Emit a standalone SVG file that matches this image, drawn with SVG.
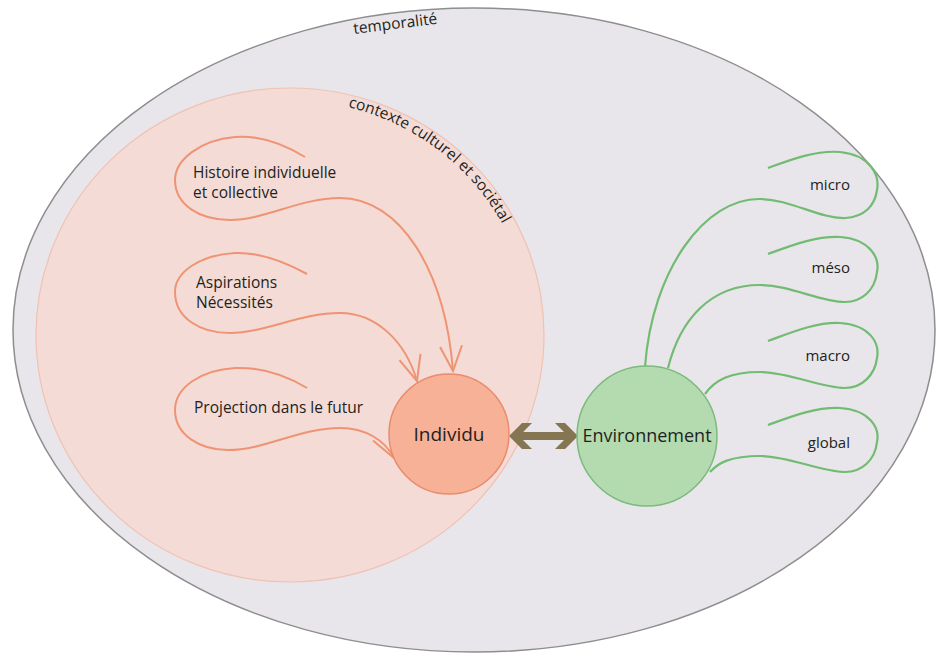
<svg xmlns="http://www.w3.org/2000/svg" xmlns:xlink="http://www.w3.org/1999/xlink" width="936" height="657" viewBox="0 0 936 657">
<style>
text{font-family:"Open Sans","Noto Sans","Liberation Sans",sans-serif;fill:#231f20}
.lbl{font-size:15.5px}
.sm{font-size:15px}
.pink{fill:none;stroke:#ee9475;stroke-width:2}
.green{fill:none;stroke:#72bb72;stroke-width:2.2}
</style>
<defs>
<marker id="open" markerUnits="userSpaceOnUse" markerWidth="40" markerHeight="40" viewBox="-30 -20 40 40" refX="0" refY="0" orient="auto">
<path d="M -25 -11 L 0 0 L -25 11" fill="none" stroke="#ee9475" stroke-width="2"/>
</marker>
<path id="ctxArc" d="M 348 107 A 242 235 0 0 1 520 265"/>
</defs>
<rect width="936" height="657" fill="#ffffff"/>
<g id="temporalite">
<ellipse cx="474" cy="330" rx="461" ry="322" fill="#e8e6eb" stroke="#8e8e8e" stroke-width="1.5"/>
<text class="lbl" transform="translate(354 34) rotate(-7)">temporalité</text>
</g>
<g id="contexte">
<ellipse cx="290" cy="335" rx="254" ry="247" fill="#f4dbd6" stroke="#efc2b3" stroke-width="1.2"/>
<text class="lbl"><textPath xlink:href="#ctxArc" href="#ctxArc">contexte culturel et sociétal</textPath></text>
</g>
<g id="connectors">
<path class="pink" marker-end="url(#open)" d="M 305 157 C 285 145 260 135 235 137 C 200 140 175 160 175 180 C 175 205 200 220 230 220 C 265 220 300 198 340 198 C 400 198 445 270 453 371"/>
<path class="pink" marker-end="url(#open)" d="M 307 274 C 285 262 260 252 235 253 C 200 255 175 272 175 292 C 175 318 200 333 230 333 C 265 333 300 313 340 313 C 375 313 405 340 417 381"/>
<path class="pink" marker-end="url(#open)" d="M 307 388 C 285 375 260 367 235 368 C 200 370 175 388 175 410 C 175 435 200 450 228 450 C 265 450 300 428 340 428 C 365 428 385 440 394 458"/>
<path class="green" d="M 768 168 C 790 160 815 150 840 152 C 870 155 880 175 877 190 C 875 205 865 217 845 218 C 820 219 790 199 760 199 C 705 198 652 270 645 367"/>
<path class="green" d="M 768 254 C 790 246 815 236 840 237 C 870 239 880 258 877 272 C 875 290 862 302 845 302 C 820 302 790 285 760 285 C 710 285 680 320 668 368"/>
<path class="green" d="M 768 341 C 790 333 815 322 840 323 C 870 325 880 343 877 358 C 875 375 862 388 845 388 C 820 388 790 372 760 372 C 730 372 715 380 705 394"/>
<path class="green" d="M 768 425 C 790 417 815 407 840 408 C 870 410 880 428 877 442 C 875 460 862 472 845 472 C 820 472 790 456 760 456 C 730 456 718 463 710 472"/>
<polygon fill="#867552" points="509,436 522,423 532,423 523,432 564,432 555,423 565,423 578,436 565,449 555,449 564,440 523,440 532,449 522,449"/>
</g>
<g id="histoire">
<text class="lbl" x="193" y="178">Histoire individuelle</text>
<text class="lbl" x="193" y="198">et collective</text>
</g>
<g id="aspirations">
<text class="lbl" x="196" y="288">Aspirations</text>
<text class="lbl" x="196" y="308">Nécessités</text>
</g>
<g id="projection">
<text class="lbl" x="194" y="413">Projection dans le futur</text>
</g>
<g id="individu">
<circle cx="449" cy="434" r="60" fill="#f7b196" stroke="#e98b6c" stroke-width="1.5"/>
<text x="449" y="441" text-anchor="middle" style="font-size:19px">Individu</text>
</g>
<g id="environnement">
<circle cx="647" cy="436" r="70" fill="#b4dbb0" stroke="#7bbb7b" stroke-width="1.5"/>
<text x="647" y="442" text-anchor="middle" style="font-size:18px">Environnement</text>
</g>
<g id="micro"><text class="sm" x="850" y="190" text-anchor="end">micro</text></g>
<g id="meso"><text class="sm" x="850" y="273" text-anchor="end">méso</text></g>
<g id="macro"><text class="sm" x="850" y="361" text-anchor="end">macro</text></g>
<g id="global"><text class="sm" x="850" y="448" text-anchor="end">global</text></g>
</svg>
